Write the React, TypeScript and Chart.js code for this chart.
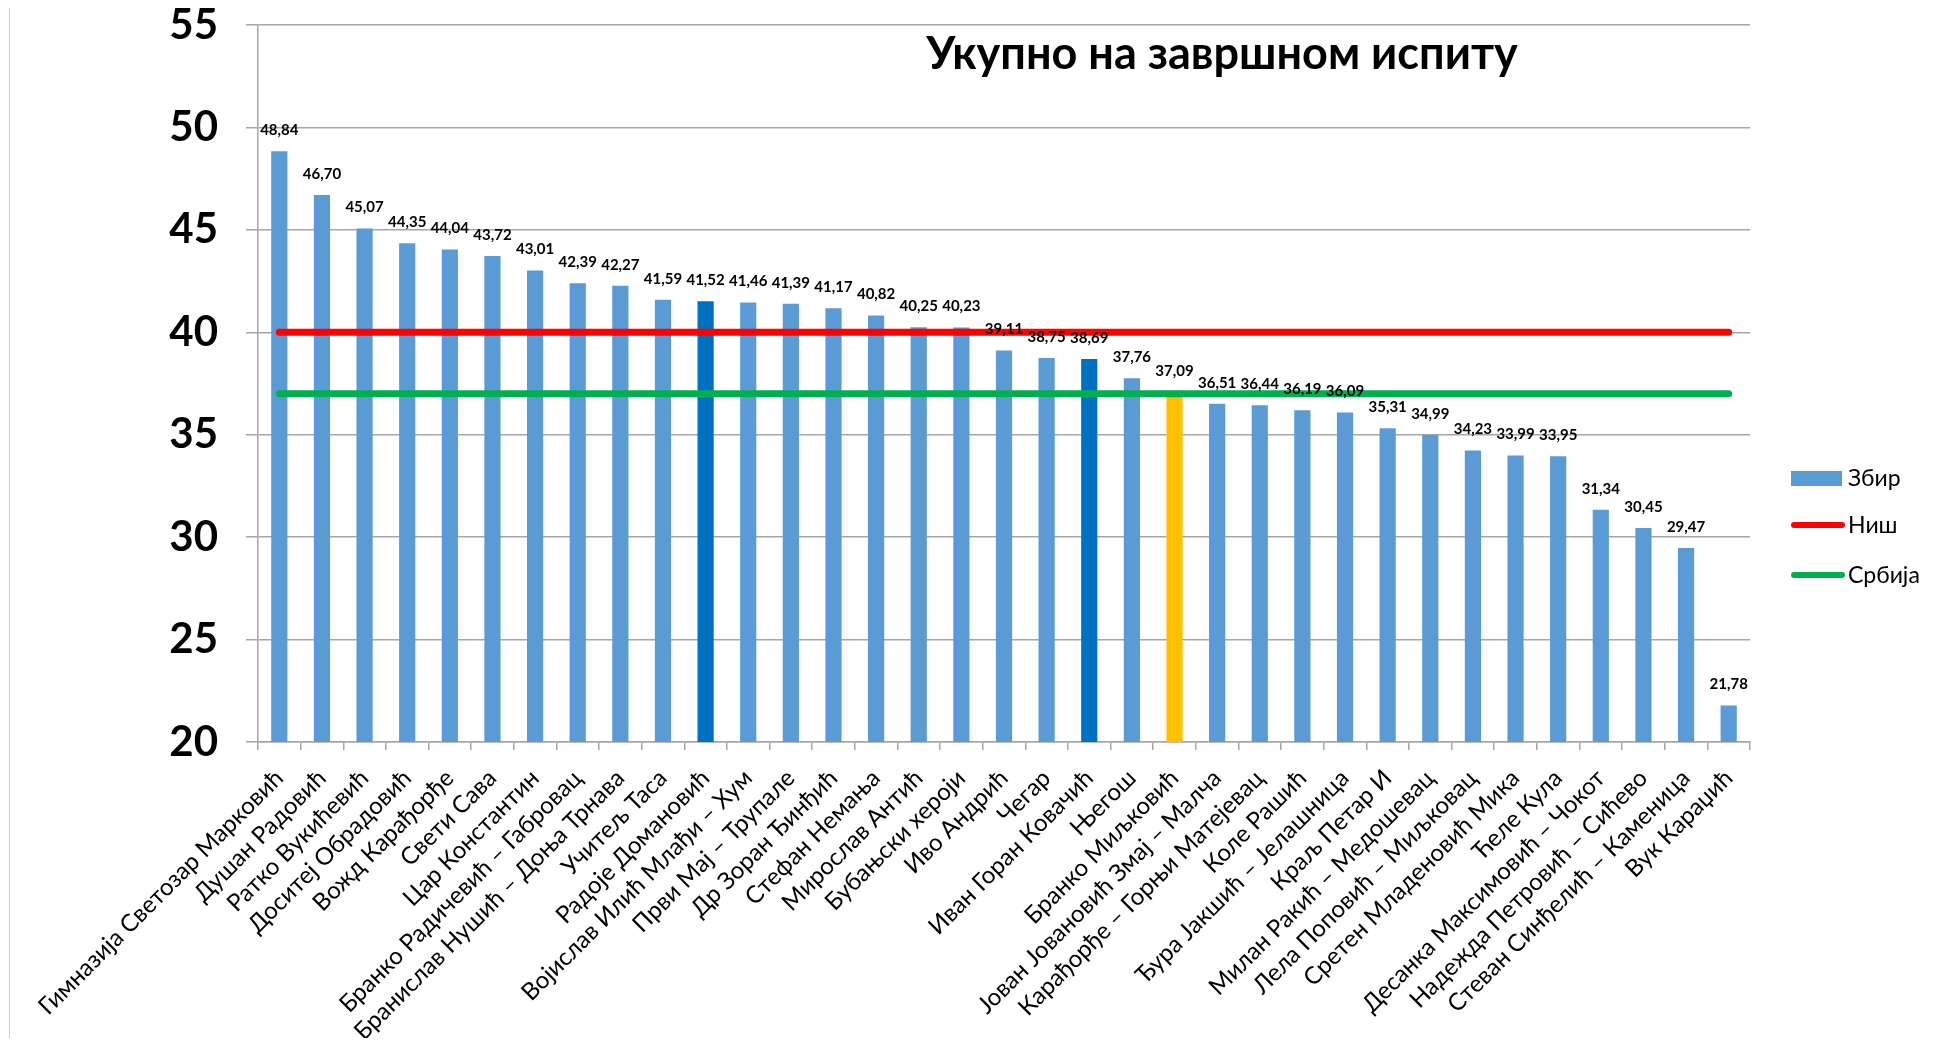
import React, { useEffect, useRef } from 'react';
import { Chart, registerables } from 'chart.js';

Chart.register(...registerables);

const categories = [
  'Гимназија Светозар Марковић',
  'Душан Радовић',
  'Ратко Вукићевић',
  'Доситеј Обрадовић',
  'Вожд Карађорђе',
  'Свети Сава',
  'Цар Константин',
  'Бранко Радичевић – Габровац',
  'Бранислав Нушић – Доња Трнава',
  'Учитељ Таса',
  'Радоје Домановић',
  'Војислав Илић Млађи – Хум',
  'Први Мај – Трупале',
  'Др Зоран Ђинђић',
  'Стефан Немања',
  'Мирослав Антић',
  'Бубањски хероји',
  'Иво Андрић',
  'Чегар',
  'Иван Горан Ковачић',
  'Његош',
  'Бранко Миљковић',
  'Јован Јовановић Змај – Малча',
  'Карађорђе – Горњи Матејевац',
  'Коле Рашић',
  'Ђура Јакшић – Јелашница',
  'Краљ Петар И',
  'Милан Ракић – Медошевац',
  'Лела Поповић – Миљковац',
  'Сретен Младеновић Мика',
  'Ћеле Кула',
  'Десанка Максимовић – Чокот',
  'Надежда Петровић – Сићево',
  'Стеван Синђелић – Каменица',
  'Вук Караџић',
];

const zbirValues = [
  48.84, 46.7, 45.07, 44.35, 44.04, 43.72, 43.01, 42.39, 42.27, 41.59,
  41.52, 41.46, 41.39, 41.17, 40.82, 40.25, 40.23, 39.11, 38.75, 38.69,
  37.76, 37.09, 36.51, 36.44, 36.19, 36.09, 35.31, 34.99, 34.23, 33.99,
  33.95, 31.34, 30.45, 29.47, 21.78,
];

const nisAverage = 40;
const srbijaAverage = 37;

const darkBlueSchools = ['Радоје Домановић', 'Иван Горан Ковачић'];
const yellowSchools = ['Бранко Миљковић'];

const yTicks = [20, 25, 30, 35, 40, 45, 50, 55];

const seriesNames = ['Збир', 'Ниш', 'Србија'];
const chartTitle = 'Укупно на завршном испиту';

const FONT = 'Lato, "Noto Sans", "DejaVu Sans", sans-serif';
const GRID = '#a6a6a6';

const overlayPlugin = {
  id: 'overlay',
  beforeDraw(chart: any) {
    const ctx = chart.ctx;
    ctx.save();
    ctx.fillStyle = '#ffffff';
    ctx.fillRect(0, 0, chart.width, chart.height);
    ctx.strokeStyle = '#c8c8c8';
    ctx.lineWidth = 1;
    ctx.beginPath();
    ctx.moveTo(1.5, 0);
    ctx.lineTo(1.5, chart.height);
    ctx.stroke();
    ctx.restore();
  },
  afterDatasetsDraw(chart: any) {
    const ctx = chart.ctx;
    const meta = chart.getDatasetMeta(0);
    ctx.save();
    ctx.font = `bold 15px ${FONT}`;
    ctx.fillStyle = '#000000';
    ctx.textAlign = 'center';
    ctx.textBaseline = 'middle';
    meta.data.forEach((bar: any, i: number) => {
      const txt = zbirValues[i].toFixed(2).replace('.', ',');
      ctx.fillText(txt, bar.x, bar.y - 21);
    });
    ctx.restore();
  },
  afterDraw(chart: any) {
    const ctx = chart.ctx;
    ctx.save();
    // title
    ctx.font = `bold 45px ${FONT}`;
    ctx.fillStyle = '#000000';
    ctx.textAlign = 'center';
    ctx.textBaseline = 'middle';
    ctx.fillText(chartTitle, 1214, 46);
    // legend
    const lx = 1783;
    const ys = [470, 517, 567];
    ctx.font = `23px ${FONT}`;
    ctx.textAlign = 'left';
    ctx.fillStyle = '#5B9BD5';
    ctx.fillRect(lx, ys[0] - 7, 51, 15);
    ctx.lineCap = 'round';
    ctx.lineWidth = 6;
    ctx.strokeStyle = '#FF0000';
    ctx.beginPath();
    ctx.moveTo(lx + 3, ys[1]);
    ctx.lineTo(lx + 51, ys[1]);
    ctx.stroke();
    ctx.strokeStyle = '#00B050';
    ctx.beginPath();
    ctx.moveTo(lx + 3, ys[2]);
    ctx.lineTo(lx + 51, ys[2]);
    ctx.stroke();
    ctx.fillStyle = '#000000';
    seriesNames.forEach((n, i) => ctx.fillText(n, lx + 57, ys[i] + 1));
    ctx.restore();
  },
};

export default function App() {
  const ref = useRef<HTMLCanvasElement>(null);
  useEffect(() => {
    if (!ref.current) return;
    const colors = categories.map((c) =>
      darkBlueSchools.includes(c) ? '#0070C0' : yellowSchools.includes(c) ? '#FFC000' : '#5B9BD5'
    );
    const chart = new Chart(ref.current, {
      type: 'bar',
      data: {
        labels: categories,
        datasets: [
          {
            type: 'bar',
            label: seriesNames[0],
            data: zbirValues,
            backgroundColor: colors,
            barPercentage: 0.38,
            categoryPercentage: 1,
            order: 2,
          },
          {
            type: 'line',
            label: seriesNames[1],
            data: categories.map(() => nisAverage),
            borderColor: '#FF0000',
            borderWidth: 7,
            borderCapStyle: 'round',
            pointRadius: 0,
            order: 1,
          },
          {
            type: 'line',
            label: seriesNames[2],
            data: categories.map(() => srbijaAverage),
            borderColor: '#00B050',
            borderWidth: 7,
            borderCapStyle: 'round',
            pointRadius: 0,
            order: 0,
          },
        ],
      } as any,
      options: {
        animation: false,
        responsive: false,
        maintainAspectRatio: false,
        layout: { padding: { top: 17, right: 188, left: 0, bottom: 0 } },
        plugins: {
          legend: { display: false },
          title: { display: false },
          tooltip: { enabled: false },
        },
        scales: {
          x: {
            grid: {
              offset: true,
              drawOnChartArea: false,
              drawTicks: true,
              tickLength: 8,
              color: GRID,
              lineWidth: 1.5,
            },
            border: { color: GRID, width: 1.5 },
            ticks: {
              autoSkip: false,
              maxRotation: 45,
              minRotation: 45,
              padding: 14,
              color: '#000000',
              font: { family: FONT, size: 24 },
            },
            afterFit: (s: any) => {
              s.height = 296;
              s.paddingLeft = 0;
              s.paddingRight = 0;
            },
          },
          y: {
            min: 20,
            max: 55,
            afterBuildTicks: (s: any) => {
              s.ticks = yTicks.map((v) => ({ value: v }));
            },
            grid: { color: GRID, lineWidth: 1.5, tickLength: 12 },
            border: { color: GRID, width: 1.5 },
            ticks: {
              padding: 28,
              color: '#000000',
              font: { family: FONT, size: 42, weight: 'bold', lineHeight: 0.8 },
            },
            afterFit: (s: any) => {
              s.width = 250;
              s.paddingTop = 0;
              s.paddingBottom = 0;
            },
          },
        },
      } as any,
      plugins: [overlayPlugin],
    });
    return () => chart.destroy();
  }, []);
  return (
    <div style={{ width: 1930, height: 1030 }}>
      <canvas ref={ref} width={1930} height={1030} style={{ display: 'block' }} />
    </div>
  );
}
